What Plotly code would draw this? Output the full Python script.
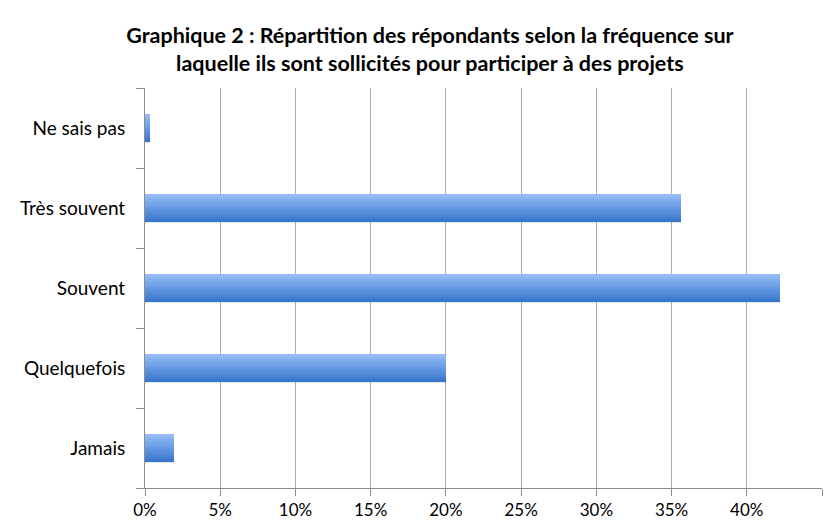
import plotly.graph_objects as go

categories = ["Jamais", "Quelquefois", "Souvent", "Très souvent", "Ne sais pas"]
values = [1.9, 20.0, 42.2, 35.6, 0.3]
x_ticks = [0, 5, 10, 15, 20, 25, 30, 35, 40, 45]
x_tick_labels = ["0%", "5%", "10%", "15%", "20%", "25%", "30%", "35%", "40%", "45%"]
title_text = ("<b>Graphique 2 : Répartition des répondants selon la fréquence sur<br>"
              "laquelle ils sont sollicités pour participer à des projets</b>")

fig = go.Figure()

# shadow
fig.add_trace(go.Bar(
    y=categories, x=values, orientation="h",
    width=0.34, offset=-0.19,
    marker=dict(color="rgba(0,0,0,0.10)", line=dict(width=0)),
    hoverinfo="skip", showlegend=False,
))

# gradient bands (dark at bottom to light at top)
bar_w = 0.34
n_bands = 12
dark = (58, 120, 206)
light = (146, 187, 245)
h = bar_w / n_bands
for i in range(n_bands):
    t = i / (n_bands - 1)
    c = tuple(round(dark[k] + (light[k] - dark[k]) * t) for k in range(3))
    fig.add_trace(go.Bar(
        y=categories, x=values, orientation="h",
        width=h * 1.05, offset=-bar_w / 2 + i * h,
        marker=dict(color="rgb(%d,%d,%d)" % c, line=dict(width=0)),
        hoverinfo="skip", showlegend=False,
    ))

fig.update_layout(
    width=838, height=520,
    barmode="overlay",
    bargap=0,
    paper_bgcolor="white", plot_bgcolor="white",
    margin=dict(l=145, r=16, t=88, b=32, autoexpand=False),
    font=dict(family="Lato, 'Open Sans', sans-serif", size=19, color="black"),
    title=dict(text=title_text, x=0.513, xanchor="center", y=0.917, yanchor="top",
               font=dict(family="Lato, sans-serif", size=21.5, color="black")),
    xaxis=dict(
        range=[0, 45], tickvals=x_ticks, ticktext=x_tick_labels,
        showgrid=True, gridcolor="#ababab", gridwidth=1,
        showline=True, linecolor="#8c8c8c", linewidth=1,
        ticks="outside", ticklen=7, tickcolor="#8c8c8c",
        zeroline=False, fixedrange=True, automargin=False,
        tickfont=dict(size=17),
    ),
    yaxis=dict(
        type="category", categoryorder="array", categoryarray=categories,
        range=[-0.5, 4.5], automargin=False, fixedrange=True,
        showline=True, linecolor="#8c8c8c", linewidth=1,
        ticks="outside", ticklen=8, tickcolor="#8c8c8c",
        tickson="boundaries", showgrid=False,
        ticklabelstandoff=15,
        tickfont=dict(size=19),
    ),
)

fig.write_html("out.html", config={"displayModeBar": False},
               post_script="document.body.style.margin='0';")
